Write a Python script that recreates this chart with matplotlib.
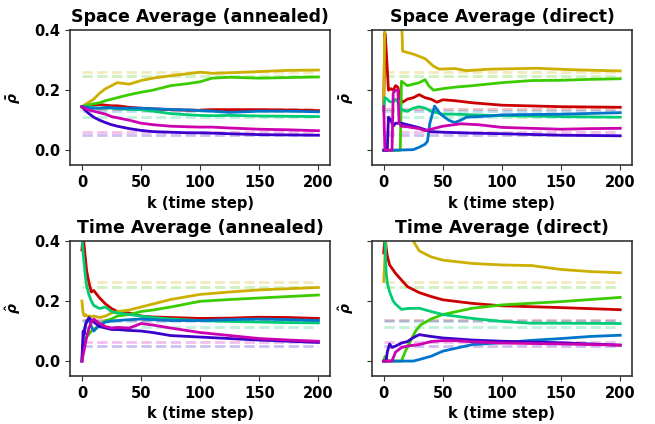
import matplotlib
matplotlib.use("Agg")
import matplotlib.pyplot as plt

plt.rcParams["font.weight"] = "bold"
plt.rcParams["axes.titleweight"] = "bold"
plt.rcParams["axes.labelweight"] = "bold"
plt.rcParams["axes.edgecolor"] = "#333333"
plt.rcParams["xtick.color"] = "#333333"
plt.rcParams["ytick.color"] = "#333333"
plt.rcParams["xtick.labelcolor"] = "black"
plt.rcParams["ytick.labelcolor"] = "black"

# series colours (hue order) and their dashed reference levels
names = ["red", "gold", "green", "teal", "blue", "indigo", "magenta"]
colors = ["#cc0000", "#ccaf00", "#3bcc00", "#00cc75", "#0075cc", "#3b00cc", "#cc00af"]
targets = [0.138, 0.262, 0.248, 0.112, 0.132, 0.050, 0.062]

# --- Space Average (annealed) ---
k_sa = [0, 5, 10, 15, 20, 25, 30, 40, 50, 60, 75, 90, 100, 110, 125, 150, 175, 200]
sa = {
    "red":     [0.145, 0.15, 0.152, 0.152, 0.15, 0.148, 0.148, 0.143, 0.14, 0.138, 0.135, 0.133, 0.133, 0.135, 0.135, 0.135, 0.134, 0.132],
    "gold":    [0.145, 0.158, 0.17, 0.19, 0.205, 0.215, 0.225, 0.22, 0.232, 0.24, 0.248, 0.255, 0.26, 0.256, 0.258, 0.262, 0.266, 0.267],
    "green":   [0.145, 0.15, 0.155, 0.158, 0.165, 0.17, 0.175, 0.185, 0.193, 0.2, 0.215, 0.222, 0.228, 0.24, 0.243, 0.24, 0.242, 0.244],
    "teal":    [0.145, 0.143, 0.142, 0.14, 0.14, 0.14, 0.138, 0.136, 0.135, 0.13, 0.122, 0.118, 0.116, 0.115, 0.116, 0.114, 0.113, 0.112],
    "blue":    [0.145, 0.142, 0.14, 0.14, 0.142, 0.142, 0.14, 0.14, 0.14, 0.138, 0.136, 0.134, 0.132, 0.13, 0.126, 0.13, 0.13, 0.128],
    "indigo":  [0.145, 0.125, 0.11, 0.1, 0.092, 0.085, 0.08, 0.072, 0.066, 0.062, 0.06, 0.058, 0.058, 0.057, 0.055, 0.052, 0.051, 0.05],
    "magenta": [0.145, 0.135, 0.13, 0.125, 0.12, 0.112, 0.108, 0.1, 0.09, 0.085, 0.08, 0.078, 0.077, 0.077, 0.074, 0.07, 0.068, 0.065],
}
space_annealed = {n: (k_sa, v) for n, v in sa.items()}

# --- Space Average (direct) ---
space_direct = {
    "red": ([0, 1, 2, 4, 6, 8, 10, 12, 14, 16, 20, 25, 30, 35, 40, 45, 50, 60, 75, 100, 150, 200],
            [0.15, 0.39, 0.34, 0.2, 0.205, 0.2, 0.215, 0.21, 0.17, 0.16, 0.17, 0.175, 0.185, 0.175, 0.17, 0.16, 0.168, 0.165, 0.158, 0.15, 0.145, 0.143]),
    "gold": ([0, 1, 15, 16, 25, 35, 42, 47, 60, 70, 90, 130, 160, 200],
             [0.15, 0.45, 0.45, 0.33, 0.32, 0.305, 0.28, 0.27, 0.272, 0.265, 0.27, 0.273, 0.268, 0.264]),
    "green": ([0, 1, 14, 15, 20, 25, 30, 35, 38, 42, 50, 60, 75, 100, 125, 150, 175, 200],
              [0.0, 0.0, 0.0, 0.23, 0.215, 0.22, 0.225, 0.235, 0.215, 0.2, 0.205, 0.21, 0.215, 0.225, 0.232, 0.233, 0.236, 0.238]),
    "teal": ([0, 1, 3, 5, 8, 10, 12, 15, 20, 25, 30, 35, 40, 50, 60, 75, 100, 150, 200],
             [0.13, 0.175, 0.17, 0.162, 0.16, 0.17, 0.16, 0.135, 0.13, 0.14, 0.145, 0.14, 0.13, 0.12, 0.12, 0.118, 0.115, 0.112, 0.11]),
    "blue": ([0, 1, 8, 25, 30, 35, 37, 39, 43, 48, 55, 60, 65, 70, 90, 100, 150, 200],
             [0.0, 0.0, 0.0, 0.002, 0.01, 0.02, 0.03, 0.09, 0.147, 0.12, 0.1, 0.092, 0.1, 0.11, 0.114, 0.118, 0.12, 0.125]),
    "indigo": ([0, 1, 3, 4, 6, 8, 10, 15, 20, 30, 40, 50, 75, 100, 150, 200],
               [0.0, 0.0, 0.0, 0.11, 0.1, 0.08, 0.09, 0.09, 0.085, 0.075, 0.062, 0.06, 0.057, 0.055, 0.05, 0.048]),
    "magenta": ([0, 1, 7, 8, 10, 12, 13, 15, 20, 30, 35, 40, 50, 65, 80, 100, 150, 175, 200],
                [0.145, 0.0, 0.0, 0.19, 0.2, 0.2, 0.09, 0.08, 0.078, 0.072, 0.065, 0.07, 0.08, 0.088, 0.085, 0.076, 0.07, 0.072, 0.073]),
}

# --- Time Average (annealed) ---
k_ta = [0, 1, 2, 3, 4, 6, 8, 10, 15, 20, 25, 30, 40, 50, 60, 75, 100, 125, 150, 175, 200]
ta = {
    "red":     [0.37, 0.42, 0.38, 0.34, 0.3, 0.26, 0.23, 0.235, 0.21, 0.19, 0.175, 0.165, 0.16, 0.15, 0.147, 0.145, 0.142, 0.143, 0.146, 0.145, 0.142],
    "gold":    [0.2, 0.16, 0.15, 0.155, 0.15, 0.15, 0.148, 0.15, 0.145, 0.15, 0.16, 0.165, 0.17, 0.18, 0.19, 0.205, 0.222, 0.23, 0.237, 0.241, 0.245],
    "green":   [0.0, 0.03, 0.05, 0.07, 0.08, 0.09, 0.1, 0.105, 0.12, 0.135, 0.14, 0.15, 0.155, 0.165, 0.17, 0.18, 0.199, 0.205, 0.21, 0.215, 0.22],
    "teal":    [0.42, 0.36, 0.32, 0.28, 0.25, 0.22, 0.2, 0.185, 0.175, 0.18, 0.165, 0.16, 0.155, 0.15, 0.145, 0.14, 0.135, 0.132, 0.13, 0.128, 0.127],
    "blue":    [0.0, 0.06, 0.1, 0.12, 0.135, 0.14, 0.115, 0.1, 0.12, 0.13, 0.133, 0.135, 0.138, 0.14, 0.138, 0.135, 0.135, 0.138, 0.14, 0.138, 0.135],
    "indigo":  [0.0, 0.1, 0.09, 0.12, 0.13, 0.145, 0.135, 0.13, 0.115, 0.11, 0.105, 0.105, 0.102, 0.1, 0.095, 0.085, 0.08, 0.075, 0.07, 0.066, 0.062],
    "magenta": [0.0, 0.02, 0.04, 0.06, 0.08, 0.11, 0.13, 0.14, 0.125, 0.115, 0.11, 0.112, 0.11, 0.125, 0.12, 0.11, 0.095, 0.085, 0.075, 0.07, 0.066],
}
time_annealed = {n: (k_ta, v) for n, v in ta.items()}

# --- Time Average (direct) ---
time_direct = {
    "red": ([0, 1, 3, 5, 10, 15, 20, 30, 40, 50, 75, 100, 150, 200],
            [0.36, 0.41, 0.35, 0.32, 0.292, 0.27, 0.248, 0.228, 0.215, 0.204, 0.192, 0.184, 0.178, 0.171]),
    "gold": ([0, 1, 3, 25, 30, 40, 50, 75, 100, 125, 150, 175, 200],
             [0.265, 0.35, 0.45, 0.4, 0.367, 0.347, 0.336, 0.325, 0.32, 0.318, 0.305, 0.298, 0.294]),
    "green": ([0, 1, 2, 3, 15, 18, 23, 27, 31, 40, 50, 75, 100, 150, 200],
              [0.0, 0.015, 0.01, 0.0, 0.0, 0.03, 0.07, 0.1, 0.12, 0.14, 0.155, 0.176, 0.187, 0.198, 0.212]),
    "teal": ([0, 1, 2, 3, 5, 8, 10, 15, 20, 30, 40, 50, 75, 100, 125, 150, 200],
             [0.45, 0.4, 0.3, 0.26, 0.23, 0.2, 0.19, 0.172, 0.175, 0.176, 0.165, 0.155, 0.142, 0.132, 0.126, 0.126, 0.125]),
    "blue": ([0, 25, 30, 40, 50, 75, 100, 125, 150, 175, 200],
             [0.0, 0.0, 0.005, 0.016, 0.033, 0.055, 0.061, 0.069, 0.075, 0.082, 0.086]),
    "indigo": ([0, 2, 3, 5, 7, 10, 15, 20, 25, 30, 40, 50, 75, 100, 150, 200],
               [0.0, 0.0, 0.03, 0.057, 0.045, 0.05, 0.06, 0.065, 0.078, 0.088, 0.082, 0.077, 0.07, 0.066, 0.061, 0.053]),
    "magenta": ([0, 7, 10, 15, 20, 30, 40, 50, 60, 75, 100, 150, 200],
                [0.0, 0.0, 0.03, 0.045, 0.05, 0.055, 0.065, 0.068, 0.068, 0.064, 0.06, 0.057, 0.053]),
}

panels = [
    ("Space Average (annealed)", r"$\bar{\rho}$", space_annealed),
    ("Space Average (direct)", r"$\bar{\rho}$", space_direct),
    ("Time Average (annealed)", r"$\hat{\rho}$", time_annealed),
    ("Time Average (direct)", r"$\hat{\rho}$", time_direct),
]

fig, axes = plt.subplots(2, 2, figsize=(6.55, 4.24), dpi=100, sharey=True)
fig.subplots_adjust(left=0.107, right=0.965, top=0.929, bottom=0.113,
                    wspace=0.16, hspace=0.56)

for ax, (title, ylab, data) in zip(axes.flat, panels):
    for name, col, tgt in zip(names, colors, targets):
        ax.plot([0, 200], [tgt, tgt], "--", color=col, alpha=0.25, lw=2)
    for name, col in zip(names, colors):
        k, v = data[name]
        ax.plot(k, v, color=col, lw=2)
    ax.set_title(title, fontsize=12.5)
    ax.set_xlabel("k (time step)", fontsize=10.5)
    ax.set_ylabel(ylab, fontsize=10, labelpad=8)
    ax.set_xlim(-10, 210)
    ax.set_ylim(-0.05, 0.4)
    ax.set_yticks([0.0, 0.2, 0.4])
    ax.set_xticks([0, 50, 100, 150, 200])
    ax.tick_params(labelsize=10.5)
    for sp in ax.spines.values():
        sp.set_linewidth(1.2)

fig.savefig("out.png", dpi=100)
